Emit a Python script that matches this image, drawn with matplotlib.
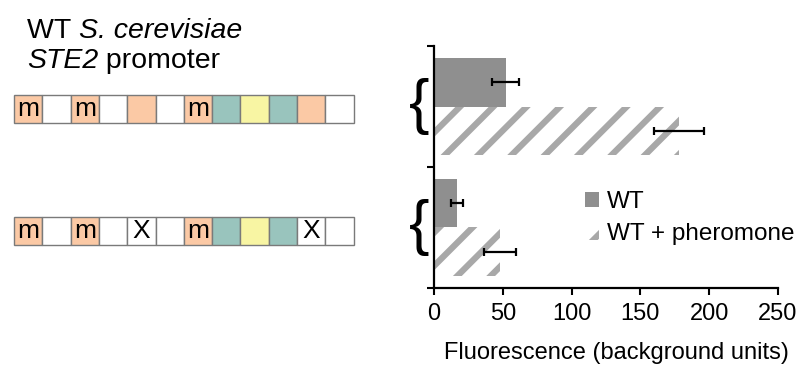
import matplotlib.pyplot as plt
from matplotlib.patches import Rectangle
import matplotlib.transforms as mtransforms

plt.rcParams['font.family'] = ['Liberation Sans', 'DejaVu Sans']
plt.rcParams['hatch.linewidth'] = 4.5

# data
groups = ['WT promoter', 'mutant promoter']
wt = [52, 16.5]
wt_err = [9.5, 4.5]
pher = [178, 48]
pher_err = [18, 11.5]
legend_labels = ['WT', 'WT + pheromone']
xticks = [0, 50, 100, 150, 200, 250]

# promoter diagrams: (colour key, letter)
row_wt = [('o', 'm'), ('w', ''), ('o', 'm'), ('w', ''), ('o', ''), ('w', ''),
          ('o', 'm'), ('t', ''), ('y', ''), ('t', ''), ('o', ''), ('w', '')]
row_mut = [('o', 'm'), ('w', ''), ('o', 'm'), ('w', ''), ('w', 'X'), ('w', ''),
           ('o', 'm'), ('t', ''), ('y', ''), ('t', ''), ('w', 'X'), ('w', '')]
box_colors = {'o': '#fbc9a5', 'w': '#ffffff', 't': '#99c4bd', 'y': '#f8f5a3'}

FS = 17
TITLE_FS = 20.5
fig = plt.figure(figsize=(8.01, 3.71), dpi=100)

# overlay in pixel coordinates for the left-hand diagram
ov = fig.add_axes([0, 0, 1, 1])
ov.set_xlim(0, 801)
ov.set_ylim(371, 0)
ov.axis('off')

def text_run(x, y, parts):
    # parts: list of (string, style); pieces are chained left to right
    prev = ov.text(x, y, parts[0][0], fontsize=TITLE_FS, style=parts[0][1],
                   va='baseline')
    for s, st in parts[1:]:
        prev = ov.annotate(s, xy=(1, 0), xycoords=prev, fontsize=TITLE_FS,
                           style=st, va='bottom')

text_run(27, 37.5, [('WT ', 'normal'), ('S. cerevisiae', 'italic')])
text_run(27, 68, [('STE2', 'italic'), (' promoter', 'normal')])

bw = 28.3
for row, ytop in [(row_wt, 94.5), (row_mut, 216.5)]:
    for i, (c, lab) in enumerate(row):
        x0 = 14 + i * bw
        ov.add_patch(Rectangle((x0, ytop), bw, 28, facecolor=box_colors[c],
                               edgecolor='#7a7a7a', lw=1.0))
        if lab:
            ov.text(x0 + bw / 2, ytop + 14.5, lab, fontsize=19,
                    ha='center', va='center')

# bar chart
ax = fig.add_axes([434 / 801, 1 - 288 / 371, 344 / 801, 242 / 371])
cats = [1, 0]
h = 0.4
ax.barh([c + h / 2 for c in cats], wt, height=h, color='#8f8f8f',
        lw=0, label=legend_labels[0])
ax.barh([c - h / 2 for c in cats], pher, height=h, facecolor='white',
        edgecolor='#a8a8a8', hatch='/', lw=0, label=legend_labels[1])
ax.errorbar(wt, [c + h / 2 for c in cats], xerr=wt_err, fmt='none',
            ecolor='black', elinewidth=1.6, capsize=3, capthick=1.6)
ax.errorbar(pher, [c - h / 2 for c in cats], xerr=pher_err, fmt='none',
            ecolor='black', elinewidth=1.6, capsize=3, capthick=1.6)

ax.set_xlim(0, 250)
ax.set_ylim(-0.5, 1.5)
ax.set_xticks(xticks)
ax.set_yticks([-0.5, 0.5, 1.5])
ax.set_yticklabels([])
ax.tick_params(axis='both', length=5, width=1.5, labelsize=FS, pad=6)
for s in ['top', 'right']:
    ax.spines[s].set_visible(False)
for s in ['left', 'bottom']:
    ax.spines[s].set_linewidth(1.6)
ax.set_xlabel('Fluorescence (background units)', fontsize=FS, labelpad=12)
ax.xaxis.label.set_x(0.53)

trans = mtransforms.blended_transform_factory(ax.transAxes, ax.transData)
for c in cats:
    ax.text(-0.044, c, '{', fontsize=44, ha='center', va='center',
            transform=trans, clip_on=False)

ax.legend(loc='upper left', bbox_to_anchor=(0.438, 0.40), frameon=False,
          fontsize=17.5, handlelength=0.6, handleheight=0.6,
          handletextpad=0.3, labelspacing=0.42, borderaxespad=0,
          borderpad=0)

fig.savefig('out.png', dpi=100)
